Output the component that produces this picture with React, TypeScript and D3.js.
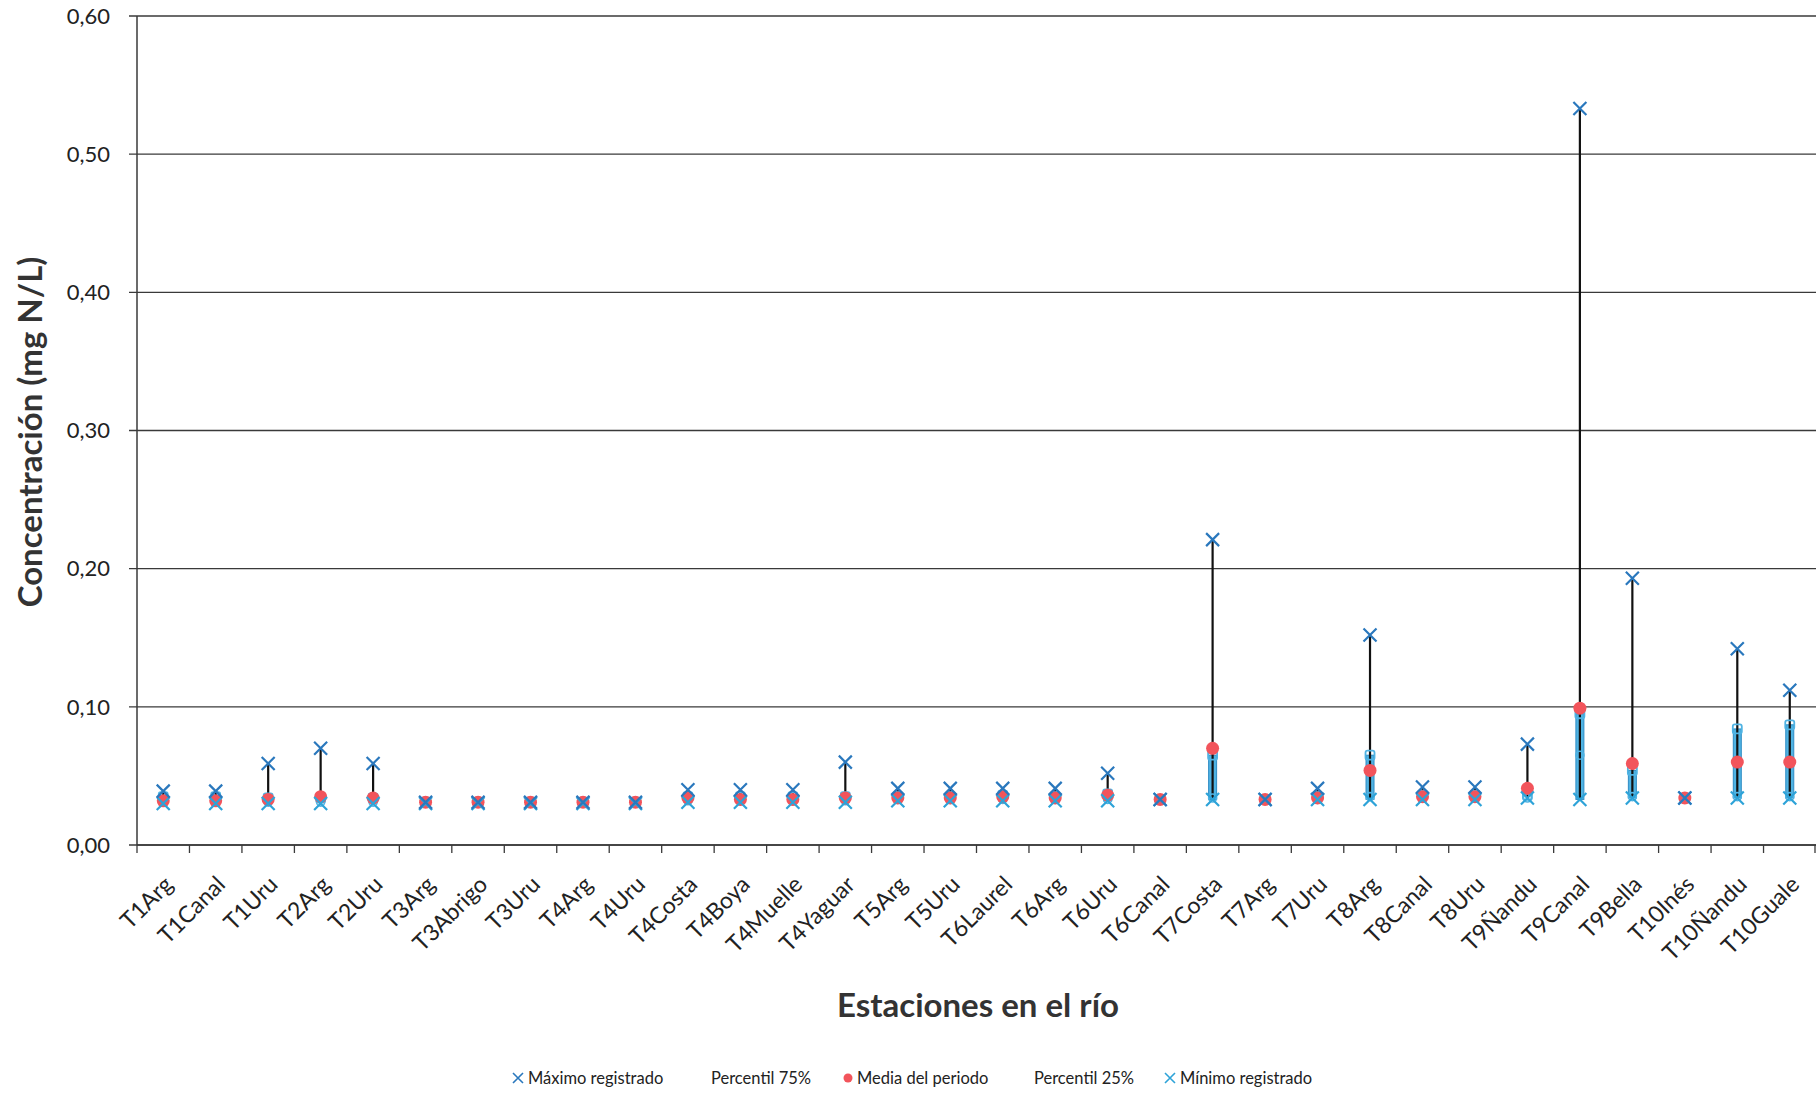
import React from "react";
import * as d3 from "d3";

const stations = ["T1Arg","T1Canal","T1Uru","T2Arg","T2Uru","T3Arg","T3Abrigo","T3Uru","T4Arg","T4Uru","T4Costa","T4Boya","T4Muelle","T4Yaguar","T5Arg","T5Uru","T6Laurel","T6Arg","T6Uru","T6Canal","T7Costa","T7Arg","T7Uru","T8Arg","T8Canal","T8Uru","T9Ñandu","T9Canal","T9Bella","T10Inés","T10Ñandu","T10Guale"];
const maxVals = [0.039,0.039,0.059,0.070,0.059,0.031,0.031,0.031,0.031,0.031,0.040,0.040,0.040,0.060,0.041,0.041,0.041,0.041,0.052,0.033,0.221,0.033,0.041,0.152,0.042,0.042,0.073,0.533,0.193,0.034,0.142,0.112];
const p75Vals = [0.035,0.035,0.034,0.034,0.034,0.031,0.031,0.031,0.031,0.031,0.035,0.035,0.035,0.035,0.035,0.035,0.036,0.035,0.037,0.033,0.065,0.033,0.035,0.065,0.036,0.036,0.036,0.095,0.054,0.034,0.084,0.087];
const meanVals = [0.032,0.032,0.033,0.035,0.034,0.031,0.031,0.031,0.031,0.031,0.034,0.033,0.033,0.034,0.034,0.034,0.035,0.034,0.036,0.033,0.070,0.033,0.034,0.054,0.035,0.035,0.041,0.099,0.059,0.034,0.060,0.060];
const p25Vals = [0.031,0.031,0.031,0.031,0.031,0.031,0.031,0.031,0.031,0.031,0.032,0.032,0.032,0.032,0.033,0.033,0.033,0.033,0.033,0.033,0.034,0.033,0.033,0.035,0.034,0.034,0.034,0.065,0.035,0.034,0.035,0.035];
const minVals = [0.030,0.030,0.030,0.030,0.030,0.030,0.030,0.030,0.030,0.030,0.031,0.031,0.031,0.031,0.032,0.032,0.032,0.032,0.032,0.033,0.033,0.033,0.033,0.033,0.033,0.033,0.034,0.033,0.034,0.034,0.034,0.034];
const yTicks = [0, 0.1, 0.2, 0.3, 0.4, 0.5, 0.6];

const FONT = "Lato, 'Open Sans', sans-serif";

function Cross({ x, y, s, color, w }: { x: number; y: number; s: number; color: string; w: number }) {
  return (
    <path d={`M${x - s},${y - s}L${x + s},${y + s}M${x - s},${y + s}L${x + s},${y - s}`} stroke={color} strokeWidth={w} fill="none" />
  );
}

export default function App() {
  const W = 1818, H = 1093;
  const left = 137, right = 1816, top = 16, bottom = 845;
  const x = d3.scaleBand<string>().domain(stations).range([left, right]);
  const y = d3.scaleLinear().domain([0, 0.6]).range([bottom, top]);
  const fmt = (v: number) => v.toFixed(2).replace(".", ",");
  const maxColor = "#2a78bd";
  const minColor = "#2ea3d8";
  const red = "#f2545b";
  const lightBlue = "#4fb3e3";

  return (
    <div style={{ position: "fixed", left: 0, top: 0 }}>
      <svg width={W} height={H} style={{ display: "block", background: "#fff" }} fontFamily={FONT}>
        {yTicks.map((t) => (
          <g key={t}>
            <line x1={left - 8} x2={right} y1={y(t)} y2={y(t)} stroke="#3a3a3a" strokeWidth={1.3} />
            <text x={110} y={y(t)} dy="0.35em" textAnchor="end" fontSize={22} fill="#222">{fmt(t)}</text>
          </g>
        ))}
        <line x1={left} x2={left} y1={top} y2={bottom} stroke="#3a3a3a" strokeWidth={1.5} />
        {stations.map((s) => (
          <line key={s} x1={x(s)!} x2={x(s)!} y1={bottom} y2={bottom + 8} stroke="#3a3a3a" strokeWidth={1.3} />
        ))}
        <line x1={right - 1} x2={right - 1} y1={bottom} y2={bottom + 8} stroke="#3a3a3a" strokeWidth={1.3} />
        {stations.map((s) => {
          const cx = x(s)! + x.bandwidth() / 2;
          return (
            <text key={s} transform={`translate(${cx + 11},${bottom + 41}) rotate(-45)`} textAnchor="end" fontSize={23} fill="#222">{s}</text>
          );
        })}
        {stations.map((s, i) => {
          const cx = x(s)! + x.bandwidth() / 2;
          const hasBar = y(minVals[i]) - y(p75Vals[i]) > 6;
          return (
            <g key={s}>
              {hasBar && (
                <rect x={cx - 4} y={y(p75Vals[i])} width={8} height={y(minVals[i]) - y(p75Vals[i])} fill={lightBlue} stroke="#2f8cc4" strokeWidth={1} />
              )}
              <line x1={cx} x2={cx} y1={y(minVals[i])} y2={y(maxVals[i])} stroke="#111" strokeWidth={2.2} />
              <rect x={cx - 4.5} y={y(p75Vals[i]) - 4.5} width={9} height={9} rx={2} fill="none" stroke={lightBlue} strokeWidth={1.8} />
              <circle cx={cx} cy={y(p25Vals[i])} r={4} fill="none" stroke={lightBlue} strokeWidth={1.6} />
              <circle cx={cx} cy={y(meanVals[i])} r={6.5} fill={red} />
              <Cross x={cx} y={y(minVals[i])} s={6.5} color={minColor} w={2.2} />
              <Cross x={cx} y={y(maxVals[i])} s={6.5} color={maxColor} w={2.2} />
            </g>
          );
        })}
        <line x1={left} x2={right} y1={bottom} y2={bottom} stroke="#3a3a3a" strokeWidth={1.6} />
        <text transform={`translate(42,432) rotate(-90)`} textAnchor="middle" fontSize={33} fontWeight="bold" fill="#333">Concentración (mg N/L)</text>
        <text x={978} y={1017} textAnchor="middle" fontSize={33} fontWeight="bold" fill="#333">Estaciones en el río</text>
        <g fontSize={16.5} fill="#222">
          <Cross x={518} y={1078} s={5} color={maxColor} w={1.6} />
          <text x={528} y={1084}>Máximo registrado</text>
          <text x={711} y={1084}>Percentil 75%</text>
          <circle cx={848} cy={1078} r={4.5} fill={red} />
          <text x={857} y={1084}>Media del periodo</text>
          <text x={1034} y={1084}>Percentil 25%</text>
          <Cross x={1170} y={1078} s={5} color={minColor} w={1.6} />
          <text x={1180} y={1084}>Mínimo registrado</text>
        </g>
      </svg>
    </div>
  );
}
